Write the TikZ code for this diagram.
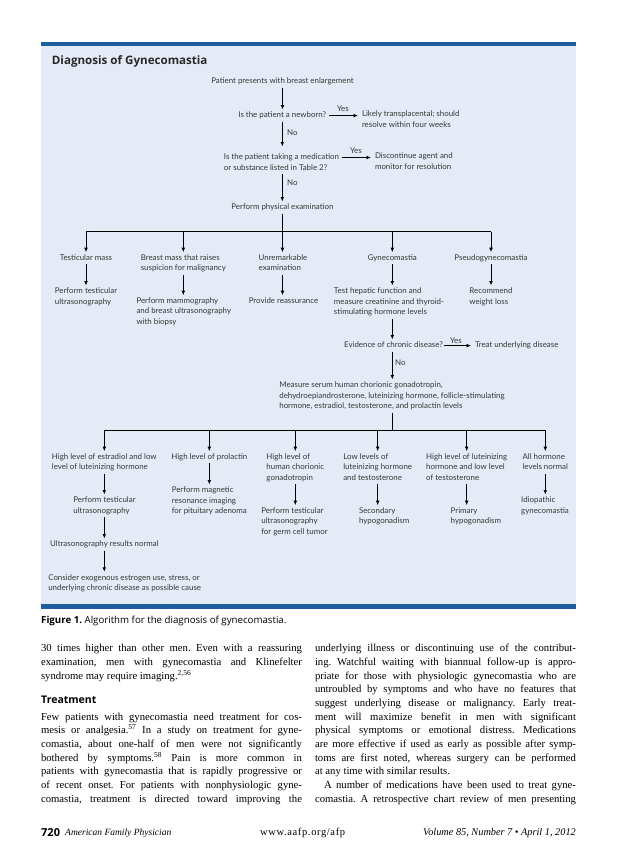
\documentclass[tikz,border=0pt]{standalone}
\usepackage{fontspec}
\setmainfont{Liberation Serif}
\newfontfamily\dgfont{Lato}
\newfontfamily\hdfont{Open Sans}
\usetikzlibrary{arrows.meta}
\definecolor{panelbg}{RGB}{228,234,246}
\definecolor{bandblue}{RGB}{30,93,158}
\definecolor{dgtext}{RGB}{55,55,55}
\newcommand\fs{\rule{0pt}{6.2pt}}
\newcommand\fd{\rule[-2pt]{0pt}{2pt}}
\newcommand\bs{\rule{0pt}{10pt}}
\newcommand\jl[1]{\makebox[261pt][s]{#1}}
\frenchspacing
\begin{document}
\begin{tikzpicture}[x=1pt,y=-1pt,
  dg/.style={font=\dgfont\fontsize{7.9}{10.4}\selectfont, text=dgtext, inner sep=0pt, outer sep=0pt, align=left},
  dgc/.style={dg, anchor=north},
  dgw/.style={dg, anchor=north west},
  lbl/.style={font=\dgfont\fontsize{7.9}{8}\selectfont, text=dgtext, inner sep=0pt},
  arr/.style={line width=0.9pt, -{Latex[length=4.5pt,width=3.8pt]}, shorten >=2pt},
  arrn/.style={arr, shorten <=2pt},
  yesarr/.style={line width=0.9pt, -{Latex[length=4.5pt,width=3.8pt]}, shorten <=3pt, shorten >=4pt},
  brline/.style={line width=0.9pt},
  body/.style={font=\frenchspacing\fontsize{10.7}{13.68}\selectfont, inner sep=0pt, outer sep=0pt, align=left, anchor=north west},
  hd/.style={font=\hdfont\bfseries\fontsize{10.5}{12}\selectfont, inner sep=0pt, anchor=base west},
]
\useasboundingbox (0,0) rectangle (638,865);
\fill[white] (0,0) rectangle (638,865);
% panel
\fill[panelbg] (41,45.7) rectangle (576,604.3);
\fill[bandblue] (41,41.7) rectangle (576,45.7);
\fill[bandblue] (41,604.3) rectangle (576,609);
\node[hd, font=\hdfont\bfseries\fontsize{11.6}{13}\selectfont, text={rgb,255:red,40;green,40;blue,40}] (title) at (51.7,64) {Diagnosis of Gynecomastia};

% top chain
\node[dgc] (start) at (282.5,77.5) {\fs Patient presents with breast enlargement\fd};
\node[dgc] (newborn) at (282.3,111.5) {\fs Is the patient a newborn?\fd};
\node[dgw] (transpl) at (362,110.5) {\fs Likely transplacental; should\\resolve within four weeks\fd};
\node[dgc] (med) at (281.5,153.5) {\fs Is the patient taking a medication\\or substance listed in Table 2?\fd};
\node[dgw] (discont) at (375,152.5) {\fs Discontinue agent and\\monitor for resolution\fd};
\node[dgc] (phys) at (282.5,203.5) {\fs Perform physical examination\fd};

\node[lbl] (yes1) at (343,109) {Yes};
\node[lbl, anchor=west] (no1) at (287,133) {No};
\node[lbl] (yes2) at (356,150.5) {Yes};
\node[lbl, anchor=west] (no2) at (287,183) {No};

\draw[arrn] (start.south) -- (start.south |- newborn.north);
\draw[yesarr] (newborn.east) -- (newborn.east -| transpl.west);
\draw[arrn, shorten >=7pt] (newborn.south) -- (newborn.south |- med.north);
\draw[yesarr] ([yshift=-4pt]med.north east) -- ([yshift=-4pt]med.north east -| discont.west);
\draw[arrn] (newborn.south |- med.south) -- (newborn.south |- phys.north);

% level 1
\coordinate (lvl1) at (0,231.7);
\node[dgc] (testmass) at (86,254.2) {\fs Testicular mass\fd};
\node[dgc] (breastmass) at (183.3,254.2) {\fs Breast mass that raises\\suspicion for malignancy\fd};
\node[dgc] (unremark) at (283,254.2) {\fs Unremarkable\\examination\fd};
\node[dgc] (gyneco) at (392.3,254.2) {\fs Gynecomastia\fd};
\node[dgc] (pseudo) at (491,254.2) {\fs Pseudogynecomastia\fd};

\draw[brline, shorten <=2pt] (phys.south) -- (phys.south |- lvl1);
\draw[brline] (testmass.north |- lvl1) -- (pseudo.north |- lvl1);
\draw[arr] (testmass.north |- lvl1) -- (testmass.north);
\draw[arr] (breastmass.north |- lvl1) -- (breastmass.north);
\draw[arr] (phys.south |- lvl1) -- (phys.south |- unremark.north);
\draw[arr] (gyneco.north |- lvl1) -- (gyneco.north);
\draw[arr] (pseudo.north |- lvl1) -- (pseudo.north);

% level 2
\node[dgc] (pts) at (86,287.5) {\fs Perform testicular\\ultrasonography\fd};
\node[dgc] (mammo) at (183.8,297.2) {\fs Perform mammography\\and breast ultrasonography\\with biopsy\fd};
\node[dgc] (reass) at (283.5,297.2) {\fs Provide reassurance\fd};
\node[dgc] (hepatic) at (389,287.5) {\fs Test hepatic function and\\measure creatinine and thyroid-\\stimulating hormone levels\fd};
\node[dgc] (weight) at (491,287.5) {\fs Recommend\\weight loss\fd};

\draw[arrn] (testmass.south) -- (testmass.south |- pts.north);
\draw[arrn] (breastmass.south) -- (breastmass.south |- mammo.north);
\draw[arrn] (phys.south |- unremark.south) -- (phys.south |- reass.north);
\draw[arrn] (gyneco.south) -- (gyneco.south |- hepatic.north);
\draw[arrn] (pseudo.south) -- (pseudo.south |- weight.north);

% chronic disease
\node[dgc] (chronic) at (393.5,341.5) {\fs Evidence of chronic disease?\fd};
\node[dgw] (treat) at (475,341.5) {\fs Treat underlying disease\fd};
\node[lbl] (yes3) at (456,340.7) {Yes};
\node[lbl, anchor=west] (no3) at (395,362.7) {No};
\draw[arrn] (gyneco.south |- hepatic.south) -- (gyneco.south |- chronic.north);
\draw[yesarr, shorten <=1pt] (chronic.east) -- (chronic.east -| treat.west);

\node[dgc] (measure) at (392,381.5) {\fs Measure serum human chorionic gonadotropin,\\dehydroepiandrosterone, luteinizing hormone, follicle-stimulating\\hormone, estradiol, testosterone, and prolactin levels\fd};
\draw[arrn] (gyneco.south |- chronic.south) -- (gyneco.south |- measure.north);

% level 3
\coordinate (lvl2) at (0,430);
\node[dgc] (estr) at (104.3,453.2) {\fs High level of estradiol and low\\level of luteinizing hormone\fd};
\node[dgc] (prol) at (209.3,453.2) {\fs High level of prolactin\fd};
\node[dgc] (hcg) at (295.3,453.2) {\fs High level of\\human chorionic\\gonadotropin\fd};
\node[dgc] (lowlh) at (377.7,453.2) {\fs Low levels of\\luteinizing hormone\\and testosterone\fd};
\node[dgc] (highlh) at (466.7,453.2) {\fs High level of luteinizing\\hormone and low level\\of testosterone\fd};
\node[dgc] (allnorm) at (545.3,453.2) {\fs All hormone\\levels normal\fd};

\draw[brline, shorten <=2pt] (gyneco.south |- measure.south) -- (gyneco.south |- lvl2);
\draw[brline] (estr.north |- lvl2) -- (allnorm.north |- lvl2);
\foreach \n in {estr,prol,hcg,lowlh,highlh,allnorm}
  \draw[arr] (\n.north |- lvl2) -- (\n.north);

% level 4
\node[dgc] (pts2) at (104.5,496.5) {\fs Perform testicular\\ultrasonography\fd};
\node[dgc] (usnorm) at (104.5,540.5) {\fs Ultrasonography results normal\fd};
\node[dgw] (consider) at (48.3,573.8) {\fs Consider exogenous estrogen use, stress, or\\underlying chronic disease as possible cause\fd};
\node[dgc] (mri) at (209.3,486.5) {\fs Perform magnetic\\resonance imaging\\for pituitary adenoma\fd};
\node[dgc] (germ) at (294.5,507.2) {\fs Perform testicular\\ultrasonography\\for germ cell tumor\fd};
\node[dgw] (secondary) at (359,507.2) {\fs Secondary\\hypogonadism\fd};
\node[dgw] (primary) at (450.7,507.2) {\fs Primary\\hypogonadism\fd};
\node[dgc] (idio) at (545,496.5) {\fs Idiopathic\\gynecomastia\fd};

\draw[arrn] (estr.south) -- (estr.south |- pts2.north);
\draw[arrn] (estr.south |- pts2.south) -- (estr.south |- usnorm.north);
\draw[arrn] (estr.south |- usnorm.south) -- (estr.south |- consider.north);
\draw[arrn] (prol.south) -- (prol.south |- mri.north);
\draw[arrn] (hcg.south) -- (hcg.south |- germ.north);
\draw[arrn] (lowlh.south) -- (lowlh.south |- secondary.north);
\draw[arrn] (highlh.south) -- (highlh.south |- primary.north);
\draw[arrn] (allnorm.south) -- (allnorm.south |- idio.north);

% caption
\node[font=\hdfont\fontsize{9.7}{11}\selectfont, inner sep=0pt, anchor=base west] (caption) at (41,623.4) {\textbf{Figure 1.} Algorithm for the diagnosis of gynecomastia.};

% body text
\node[body] (colA) at (41,641.7) {\bs\jl{30 times higher than other men. Even with a reassuring}\\
\jl{examination, men with gynecomastia and Klinefelter}\\
syndrome may require imaging.\textsuperscript{2,56}};
\node[hd] (treathd) at (41,703.8) {Treatment};
\node[body] (colB) at (41,710.2) {\bs\jl{Few patients with gynecomastia need treatment for cos-}\\
\jl{mesis or analgesia.\textsuperscript{57} In a study on treatment for gyne-}\\
\jl{comastia, about one-half of men were not significantly}\\
\jl{bothered by symptoms.\textsuperscript{58} Pain is more common in}\\
\jl{patients with gynecomastia that is rapidly progressive or}\\
\jl{of recent onset. For patients with nonphysiologic gyne-}\\
\jl{comastia, treatment is directed toward improving the}};
\node[body] (colC) at (315,641.7) {\bs\jl{underlying illness or discontinuing use of the contribut-}\\
\jl{ing. Watchful waiting with biannual follow-up is appro-}\\
\jl{priate for those with physiologic gynecomastia who are}\\
\jl{untroubled by symptoms and who have no features that}\\
\jl{suggest underlying disease or malignancy. Early treat-}\\
\jl{ment will maximize benefit in men with significant}\\
\jl{physical symptoms or emotional distress. Medications}\\
\jl{are more effective if used as early as possible after symp-}\\
\jl{toms are first noted, whereas surgery can be performed}\\
at any time with similar results.\\
\jl{\kern9pt A number of medications have been used to treat gyne-}\\
\jl{comastia. A retrospective chart review of men presenting}};

% footer
\node[font=\hdfont\bfseries\fontsize{11}{12}\selectfont, inner sep=0pt, anchor=base west] (pgnum) at (41,836.5) {720};
\node[font=\itshape\fontsize{9.5}{11}\selectfont, inner sep=0pt, anchor=base west] (journal) at (65,835.5) {American Family Physician};
\node[font=\addfontfeature{LetterSpace=6}\fontsize{10.5}{11}\selectfont, inner sep=0pt, anchor=base west] (url) at (260,835.5) {www.aafp.org/afp};
\node[font=\itshape\fontsize{10.3}{11}\selectfont, inner sep=0pt, anchor=base east] (issue) at (576,835.5) {Volume 85, Number 7 • April 1, 2012};
\end{tikzpicture}
\end{document}
